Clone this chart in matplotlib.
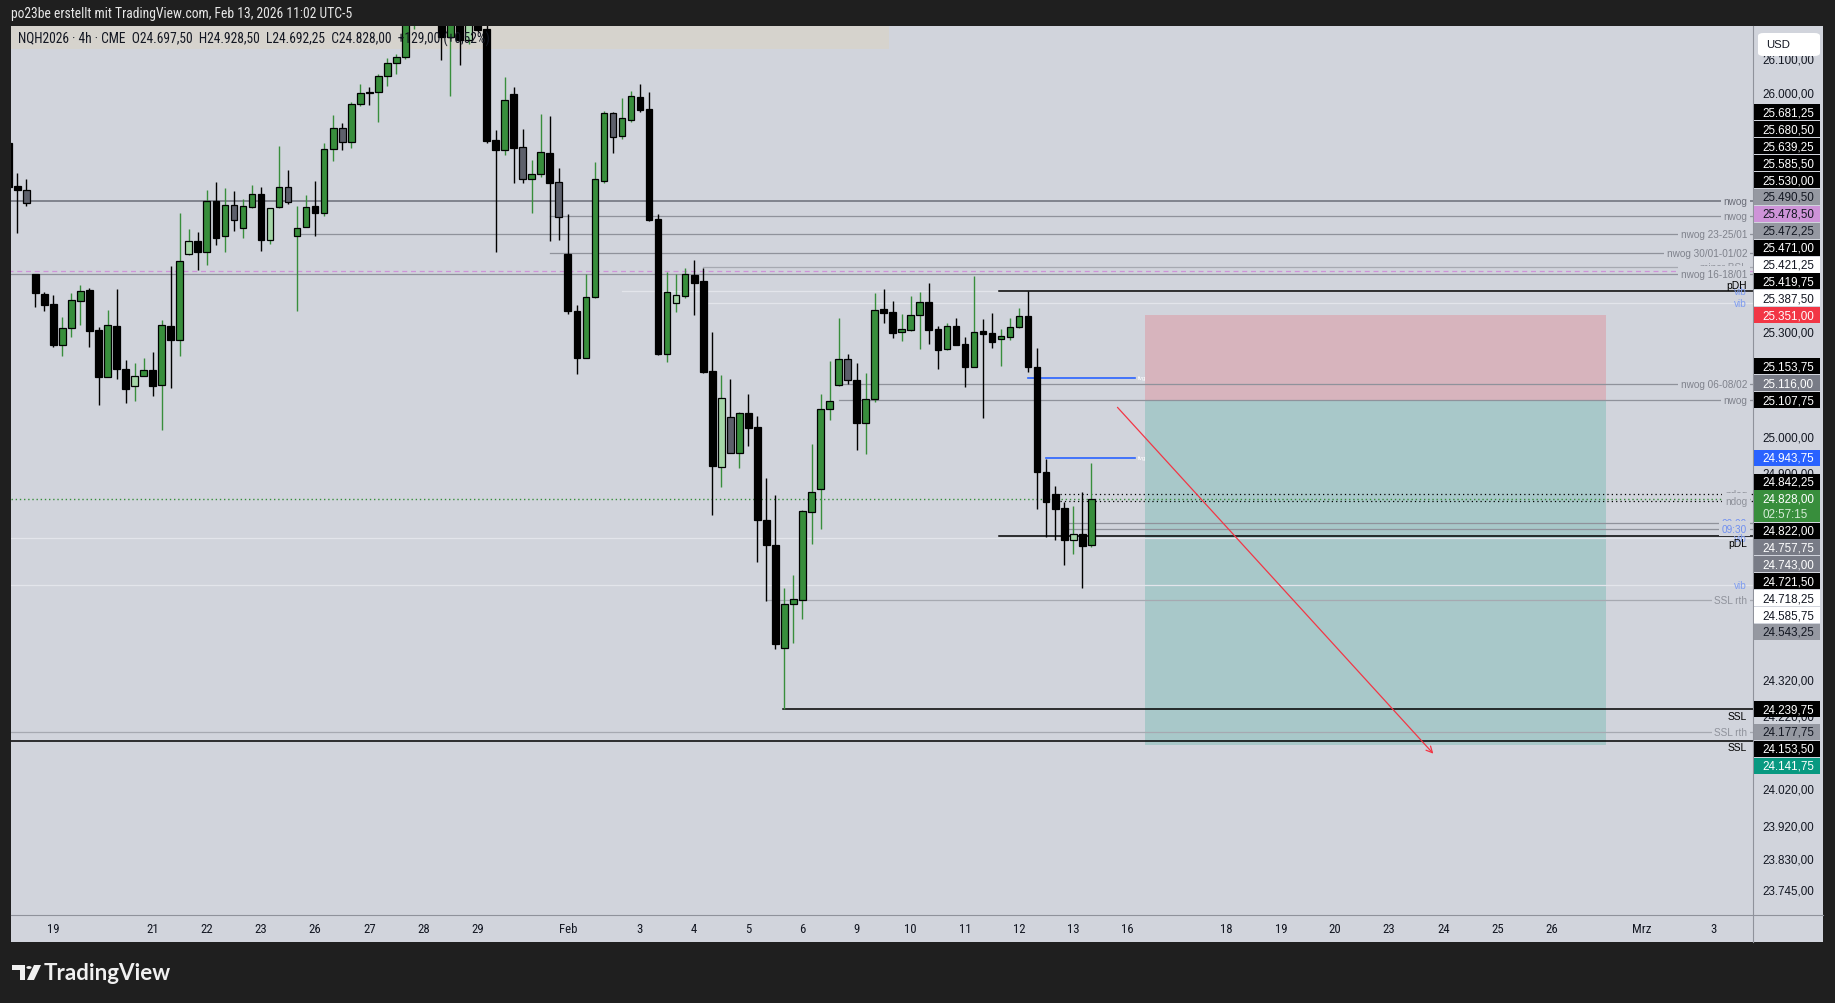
import matplotlib
matplotlib.use("Agg")
import matplotlib.pyplot as plt
from matplotlib.patches import Rectangle, FancyBboxPatch, Polygon
from matplotlib.transforms import blended_transform_factory
from matplotlib.ticker import NullLocator

W, H = 1835, 1004
BG = "#d1d4dc"
DARK = "#1f1f1f"

# ---- NQH2026 4h candles, bar index -1 .. 119 ----
opens = [25854, 25726, 25714, 25470, 25411, 25383, 25265, 25314, 25391, 25423,
         25309, 25173, 25320, 25196, 25147, 25176, 25194, 25150, 25319, 25279,
         25527, 25565, 25535, 25684, 25580, 25670, 25603, 25664, 25702, 25570,
         25664, 25723, 25582, 25608, 25667, 25649, 25834, 25896, 25857, 25967,
         26002, 26002, 26049, 26088, 26106, 26215, 26300, 26350, 26320, 26167,
         26260, 26158, 26230, 26190, 25861, 25833, 25997, 25840, 25748, 25762,
         25823, 25737, 25528, 25363, 25229, 25404, 25741, 25940, 25872, 25921,
         25988, 25953, 25630, 25240, 25385, 25408, 25468, 25450, 25190, 24918,
         25060, 24958, 25071, 25030, 24768, 24697, 24411, 24532, 24542, 24791,
         24855, 25081, 25150, 25224, 25165, 25041, 25110, 25369, 25360, 25304,
         25309, 25351, 25390, 25312, 25255, 25320, 25268, 25203, 25306, 25301,
         25284, 25289, 25316, 25349, 25203, 24904, 24841, 24802, 24710, 24727,
         24697.50]
highs = [25880, 25764, 25747, 25470, 25419, 25409, 25345, 25415, 25438, 25429,
         25317, 25366, 25427, 25222, 25215, 25228, 25244, 25337, 25494, 25649,
         25601, 25591, 25715, 25738, 25721, 25712, 25688, 25729, 25724, 25662,
         25844, 25773, 25669, 25700, 25741, 25852, 25935, 25911, 25972, 26027,
         26018, 26056, 26104, 26116, 26240, 26330, 26380, 26400, 26340, 26290,
         26280, 26250, 26250, 26215, 25891, 26047, 26018, 25894, 25803, 25938,
         25931, 25779, 25644, 25382, 25470, 25796, 25947, 25943, 25986, 26006,
         26027, 26003, 25644, 25476, 25469, 25487, 25511, 25487, 25303, 25180,
         25168, 25075, 25124, 25062, 24886, 24838, 24577, 24612, 24795, 24983,
         25124, 25220, 25343, 25240, 25214, 25186, 25415, 25427, 25392, 25355,
         25407, 25418, 25444, 25320, 25329, 25343, 25289, 25465, 25340, 25358,
         25312, 25343, 25372, 25419.75, 25257, 24939, 24864, 24818, 24806, 24846,
         24928.50]
lows = [25700, 25589, 25668, 25374, 25362, 25259, 25235, 25288, 25324, 25259,
        25095, 25173, 25168, 25099, 25104, 25176, 25120, 25023, 25141, 25233,
        25526, 25483, 25497, 25553, 25535, 25596, 25576, 25663, 25538, 25556,
        25661, 25674, 25364, 25608, 25581, 25639, 25801, 25833, 25839, 25962,
        25965, 25915, 26022, 26056, 26100, 26190, 26260, 26280, 26099, 25992,
        26084, 26145, 26180, 25854, 25535, 25818, 25736, 25736, 25647, 25752,
        25567, 25570, 25354, 25181, 25229, 25401, 25734, 25822, 25864, 25914,
        25945, 25623, 25238, 25218, 25360, 25401, 25352, 25185, 24782, 24860,
        24958, 24914, 24977, 24650, 24540, 24408, 24239.75, 24423, 24491, 24699,
        24741, 25052, 25148, 25155, 24966, 24955, 25101, 25330, 25287, 25277,
        25307, 25255, 25268, 25198, 25252, 25266, 25146, 25203, 25058, 25257,
        25206, 25281, 25314, 25187, 24799, 24720, 24710, 24642, 24673, 24578,
        24692.25]
closes = [25725, 25714, 25678, 25414, 25381, 25266, 25314, 25394, 25420, 25307,
          25173, 25322, 25196, 25138, 25177, 25194, 25149, 25322, 25279, 25507,
          25565, 25535, 25684, 25574, 25670, 25626, 25667, 25702, 25570, 25662,
          25723, 25679, 25605, 25664, 25649, 25834, 25896, 25857, 25969, 25999,
          25999, 26049, 26088, 26106, 26215, 26300, 26350, 26320, 26167, 26260,
          26158, 26230, 26187, 25859, 25833, 25978, 25839, 25748, 25761, 25825,
          25736, 25635, 25364, 25229, 25403, 25746, 25940, 25869, 25925, 25990,
          25951, 25628, 25240, 25417, 25409, 25469, 25445, 25189, 24920, 25114,
          24958, 25070, 25029, 24767, 24697, 24422, 24532, 24545, 24794, 24848,
          25083, 25104, 25224, 25164, 25041, 25110, 25366, 25358, 25301, 25312,
          25352, 25390, 25309, 25252, 25320, 25266, 25203, 25303, 25298, 25275,
          25292, 25317, 25349, 25203, 24902, 24817, 24800, 24710, 24727, 24695,
          24828.00]
# g = green, l = light green, b = black, s = slate  (groups of ten from bar -1)
kinds = ("bbsbbbgggb" "bgbblgbgbg" "lbgbgsggbl" "gsggbggsgg" "bggggggbbg"
         "blbbbgbsgg" "bsbbgggsgg" "bbbglgbbbl" "sgbbbbgggg" "gggsbggbbg"
         "ggbbgbbgbb" "gggbbbbblb" "g")

date_labels = ["19", "21", "22", "23", "26", "27", "28", "29", "Feb", "3", "4", "5",
               "6", "9", "10", "11", "12", "13", "16", "18", "19", "20", "23", "24",
               "25", "26", "Mrz", "3"]
date_bars = [4, 15, 21, 27, 33, 39, 45, 51, 61, 69, 75, 81, 87, 93, 99, 105, 111,
             117, 123, 134, 140, 146, 152, 158, 164, 170, 180, 188]

price_ticks = [26100, 26000, 25300, 25000, 24900, 24320, 24220, 24020, 23920,
               23830, 23745]

# horizontal levels on the chart
level_prices = [25681.25, 25639.25, 25585.50, 25530.00, 25490.50, 25478.50,
                25471.00, 25421.25, 25387.50, 25419.75, 25153.75, 25107.75,
                24842.25, 24822.00, 24757.75, 24743.00, 24721.50, 24718.25,
                24585.75, 24543.25, 24239.75, 24177.75, 24153.50]
level_starts = [-1, 59, 31, 59, 76, -1, -1, 67, 76, 108.8, 91, 91,
                115.5, 115.5, 116.3, 116.3, 108.8, -1, -1, 83, 84.8, -1, -1]
level_texts = ["nwog", "nwog", "nwog 23-25/01", "nwog 30/01-01/02", "minor BSL", "",
               "nwog 16-18/01", "vib", "vib", "pDH", "nwog 06-08/02", "nwog",
               "ndog", "ndog", "00:00", "09:30", "pDL", "vib", "vib", "SSL rth",
               "SSL", "SSL rth", "SSL"]
level_kinds = ["nwog_dark", "nwog", "nwog", "nwog", "rth", "pink", "nwog", "vib",
               "vib", "above", "nwog", "nwog", "ndog", "ndog", "time", "time",
               "below", "vib", "vib", "rth", "below", "rth", "below"]

fvg_prices = [25171.0, 24943.75]
fvg_starts = [112, 114]
fvg_end = 123.8

# price-axis tags
tag_values = [25681.25, 25680.50, 25639.25, 25585.50, 25530.00, 25490.50, 25478.50,
              25472.25, 25471.00, 25421.25, 25419.75, 25387.50, 25351.00, 25153.75,
              25116.00, 25107.75, 24943.75, 24842.25, 24822.00, 24757.75, 24743.00,
              24721.50, 24718.25, 24585.75, 24543.25, 24239.75, 24177.75, 24153.50,
              24141.75]
tag_kinds = ["k", "k", "k", "k", "k", "lg", "pink", "lg", "k", "w", "k", "w", "red",
             "k", "dg", "k", "blue", "k", "k", "dg", "dg", "k", "w", "w", "lg", "k",
             "lg", "k", "teal"]
last_price = 24828.00
countdown = "02:57:15"
change_text = "+129,00 (+0,52%)"

# short position tool + projection arrow
pos_bars = (124.9, 176.0)
pos_stop, pos_entry, pos_target = 25351.0, 25109.0, 24141.75
arrow_from = (121.9, 25087)
arrow_to = (156.9, 24118)

# ---------------- styles ----------------
BODY = {"g": "#388e3c", "l": "#a5d6a7", "b": "#000000", "s": "#5d606b"}
WICK = {"g": "#388e3c", "l": "#388e3c", "b": "#000000", "s": "#000000"}
LSTYLE = {
    "nwog_dark": dict(c="#6a6d78", ls="-", tc="#6a6d78", box=True),
    "nwog": dict(c="#8f929b", ls="-", tc="#7f828c", box=True),
    "rth": dict(c="#a6a9b1", ls="-", tc="#8f929b", box=True),
    "pink": dict(c="#ce93d8", ls=(0, (4, 3)), tc="#ce93d8", box=True),
    "vib": dict(c="#e3e5eb", ls="-", tc="#7e9cf0", box=False),
    "above": dict(c="#000000", ls="-", tc="#000000", box=False),
    "below": dict(c="#000000", ls="-", tc="#000000", box=False),
    "ndog": dict(c="#000000", ls=(0, (1, 2.5)), tc="#8f929b", box=True),
    "time": dict(c="#8f929b", ls="-", tc="#6f8ff0", box=True),
}
TAG = {"k": ("#000000", "#ffffff"), "lg": ("#9598a1", "#131722"),
       "dg": ("#787b86", "#ffffff"), "w": ("#ffffff", "#131722"),
       "pink": ("#ce93d8", "#131722"), "red": ("#f23645", "#ffffff"),
       "blue": ("#2962ff", "#ffffff"), "teal": ("#089981", "#ffffff")}
NARROW = ["Roboto Condensed", "Noto Sans Condensed", "Liberation Sans Narrow",
          "DejaVu Sans Condensed", "Roboto", "DejaVu Sans"]
SANS = ["Liberation Sans", "DejaVu Sans"]


def de(v):
    s = f"{v:,.2f}"
    return s.replace(",", "X").replace(".", ",").replace("X", ".")


fig = plt.figure(figsize=(W / 100, H / 100), dpi=100, facecolor=DARK)
renderer = fig.canvas.get_renderer()


def fit_width(t, target):
    # scale a text so that it spans the width measured on the reference
    w = t.get_window_extent(renderer).width
    t.set_fontsize(t.get_fontsize() * target / w)


PL, PR, PT, PB = 10.5, 1753.0, 27.0, 916.3
AXR, XB = 1823.0, 943.0
fig.patches.append(Rectangle((PL / W, 1 - XB / H), (AXR - PL) / W, (XB - PT) / H,
                             transform=fig.transFigure, fc=BG, ec="none", zorder=-1))
ax = fig.add_axes([PL / W, 1 - PB / H, (PR - PL) / W, (PB - PT) / H])
ax.set_facecolor(BG)
ax.set_yscale("log")
ax.set_xlim(-0.753, 192.32)
ax.set_ylim(23678.8, 26198.9)
ax.set_xticks([])
ax.set_yticks([])
ax.yaxis.set_minor_locator(NullLocator())
for s in ax.spines.values():
    s.set_visible(False)

xs = list(range(-1, len(opens) - 1))
yax = blended_transform_factory(ax.transAxes, ax.transData)

# header strip behind the candles
ax.add_patch(Rectangle((0, 1 - 23 / 889.3), (889 - PL) / (PR - PL), 23 / 889.3,
                       transform=ax.transAxes, fc="#d6d3cd", ec="none", zorder=1))

# position tool
x0, x1 = pos_bars
ax.add_patch(Rectangle((x0, pos_entry), x1 - x0, pos_stop - pos_entry,
                       fc="#f23645", alpha=0.2, ec="none", zorder=1.2))
ax.add_patch(Rectangle((x0, pos_target), x1 - x0, pos_entry - pos_target,
                       fc="#089981", alpha=0.2, ec="none", zorder=1.2))

# levels
for p, st, txt, kd in zip(level_prices, level_starts, level_texts, level_kinds):
    sty = LSTYLE[kd]
    lw = 1.1 if kd in ("above", "below", "nwog_dark") else 0.9
    ax.plot([st, 193], [p, p], color=sty["c"], ls=sty["ls"], lw=lw, zorder=1.5)
    if not txt:
        continue
    if kd == "above":
        ax.annotate(txt, xy=(1, p), xycoords=yax, xytext=(-4.3, 1.0),
                    textcoords="offset points", ha="right", va="bottom",
                    fontsize=7.4, color=sty["tc"], family=SANS, zorder=5)
    elif kd == "below":
        ax.annotate(txt, xy=(1, p), xycoords=yax, xytext=(-4.3, -1.2),
                    textcoords="offset points", ha="right", va="top",
                    fontsize=7.4, color=sty["tc"], family=SANS, zorder=5)
    else:
        bb = dict(boxstyle="square,pad=0.25", fc=BG, ec="none") if sty["box"] else None
        ax.annotate(txt, xy=(1, p), xycoords=yax, xytext=(-4.3, 0),
                    textcoords="offset points", ha="right", va="center",
                    fontsize=7.2, color=sty["tc"], family=SANS, zorder=4.5, bbox=bb)

for p, st in zip(fvg_prices, fvg_starts):
    ax.plot([st, fvg_end], [p, p], color="#2962ff", lw=1.2, zorder=1.6)
    ax.text(fvg_end + 0.4, p, "fvg", fontsize=4.5, color="#ffffff", va="center",
            family=SANS, zorder=5)

# last price line
ax.axhline(last_price, color="#388e3c", ls=(0, (1, 2)), lw=1.0, zorder=2)

# candles
ax.vlines(xs, lows, highs, colors=[WICK[k] for k in kinds], lw=1.0, zorder=2.5)
for x, o, c, k in zip(xs, opens, closes, kinds):
    lo, hi = min(o, c), max(o, c)
    if hi - lo < 2:
        lo, hi = lo - 1.2, hi + 1.2
    ax.add_patch(Rectangle((x - 0.37, lo), 0.74, hi - lo, fc=BODY[k], ec="#000000",
                           lw=0.9, zorder=3))

ax.annotate("", xy=arrow_to, xytext=arrow_from,
            arrowprops=dict(arrowstyle="->", color="#f23645", lw=0.9,
                            shrinkA=0, shrinkB=0, mutation_scale=11), zorder=4)

hdr = (f"NQH2026 · 4h · CME  O{de(opens[-1])}  H{de(highs[-1])}  "
       f"L{de(lows[-1])}  C{de(closes[-1])}  {change_text}")
t_hdr = ax.text((18.5 - PL) / (PR - PL), 1 - 12.5 / 889.3, hdr, transform=ax.transAxes,
                fontsize=9.6, color="#131722", va="center", family=NARROW,
                fontstretch="condensed", zorder=10)
fit_width(t_hdr, 475)

# ---- frame lines ----
fig.add_artist(plt.Line2D([PR / W, PR / W], [1 - XB / H, 1 - PT / H], color="#8f929b",
                          lw=0.8, transform=fig.transFigure))
fig.add_artist(plt.Line2D([PL / W, AXR / W], [1 - PB / H, 1 - PB / H], color="#8f929b",
                          lw=0.8, transform=fig.transFigure))

# date axis
xt = blended_transform_factory(ax.transData, fig.transFigure)
for b, lab in zip(date_bars, date_labels):
    fig.text(b, 1 - 929.5 / H, lab, transform=xt, ha="center", va="center",
             fontsize=9.2, color="#131722", family=NARROW, fontstretch="condensed")


# ---- price axis ----
def ypix(v):
    return H - ax.transData.transform((0, v))[1]


for tv in price_ticks:
    fig.text(1762 / W, 1 - ypix(tv) / H, de(tv), va="center", fontsize=8.4,
             color="#131722", family=SANS, zorder=3)

TAG_H = 16.9
cur_y = ypix(last_price)
cur_top, cur_bot = cur_y - 8.2, cur_y + 23.5
placed = []
limit = cur_top
for v, k in sorted([t for t in zip(tag_values, tag_kinds) if t[0] > last_price]):
    y = min(ypix(v), limit - TAG_H / 2)
    limit = y - TAG_H / 2
    placed.append((v, k, y))
limit = cur_bot
for v, k in sorted([t for t in zip(tag_values, tag_kinds) if t[0] < last_price],
                   reverse=True):
    y = max(ypix(v), limit + TAG_H / 2)
    limit = y + TAG_H / 2
    placed.append((v, k, y))

for v, k, y in placed:
    bg, fg = TAG[k]
    fig.patches.append(Rectangle((1754 / W, 1 - (y + 8) / H), 66 / W, 16 / H,
                                 transform=fig.transFigure, fc=bg, ec="none", zorder=5))
    fig.text(1762 / W, 1 - y / H, de(v), va="center", fontsize=8.4, color=fg,
             family=SANS, zorder=6)

fig.patches.append(Rectangle((1754 / W, 1 - cur_bot / H), 66 / W, (cur_bot - cur_top) / H,
                             transform=fig.transFigure, fc="#388e3c", ec="none", zorder=5))
fig.text(1762 / W, 1 - cur_y / H, de(last_price), va="center", fontsize=8.4,
         color="#ffffff", family=SANS, zorder=6)
fig.text(1762 / W, 1 - (cur_y + 15.2) / H, countdown, va="center", fontsize=8.4,
         color="#d6ecd7", family=SANS, zorder=6)

fig.patches.append(FancyBboxPatch((1758 / W, 1 - 57 / H), 62 / W, 23 / H,
                                  boxstyle="round,pad=0,rounding_size=0.003",
                                  transform=fig.transFigure, fc="#ffffff", ec="none",
                                  zorder=7))
fig.text(1766 / W, 1 - 45 / H, "USD", va="center", fontsize=8.2, color="#131722",
         family=SANS, zorder=8)

# ---- outer texts ----
t_top = fig.text(10.5 / W, 1 - 14 / H,
                 "po23be erstellt mit TradingView.com, Feb 13, 2026 11:02 UTC-5",
                 va="center", fontsize=9.6, color="#e8e8e8", family=NARROW,
                 fontstretch="condensed")
fit_width(t_top, 343)


def px(x, y):
    return (x / W, 1 - y / H)


logo = "#f0f0f0"
fig.patches.append(Polygon([px(12, 966), px(25, 966), px(25, 981), px(19.5, 981),
                            px(19.5, 971), px(12, 971)], closed=True,
                           transform=fig.transFigure, fc=logo, ec="none"))
fig.patches.append(plt.Circle(px(29, 968.5), 2.6 / W, transform=fig.transFigure,
                              fc=logo, ec="none"))
fig.patches.append(Polygon([px(34, 966), px(41, 966), px(34, 981), px(27, 981)],
                           closed=True, transform=fig.transFigure, fc=logo, ec="none"))
t_logo = fig.text(44 / W, 1 - 973.5 / H, "TradingView", va="center", fontsize=13,
                  color=logo, family=["Lato", "DejaVu Sans"], weight="bold")
fit_width(t_logo, 127)

fig.savefig("out.png", dpi=100, facecolor=DARK)
